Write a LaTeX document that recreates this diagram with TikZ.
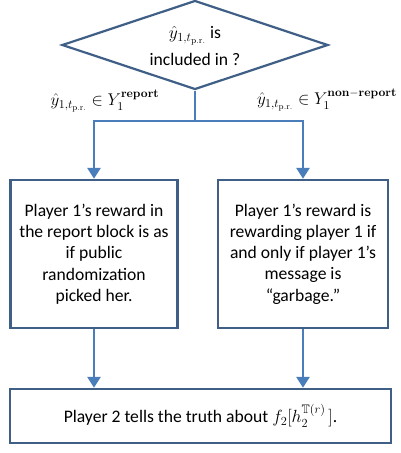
\RequirePackage{fix-cm}
\documentclass[tikz,border=0pt]{standalone}
\usepackage{amsmath,amssymb}
\usepackage[no-math]{fontspec}
\setmainfont{Carlito}
\usetikzlibrary{arrows.meta,shapes.geometric}

\definecolor{edgeblue}{HTML}{3F5F86}
\definecolor{flowblue}{HTML}{4A7EBB}

\tikzset{
  stepbox/.style={draw=edgeblue, line width=2.4pt, fill=white,
    align=center, inner sep=0pt},
  decision/.style={diamond, draw=edgeblue, line width=2.2pt, inner sep=0pt},
  flow/.style={draw=flowblue, line width=2.8pt},
  flowarrow/.style={flow, -{Triangle[width=13pt,length=11pt]}},
  branchlabel/.style={inner sep=0pt, font=\fontsize{17}{20}\selectfont},
}

\begin{document}
\begin{tikzpicture}[x=1pt, y=-1pt, every node/.style={font=\fontsize{17.6}{21.3}\selectfont}]
  \useasboundingbox (0,0) rectangle (401,453);

  % decision diamond and its question
  \node[decision, minimum width=266pt, minimum height=89pt] (dia) at (195,45) {};
  \node[align=center, inner sep=0pt, font=\fontsize{17.6}{27}\selectfont] (question)
    at ([yshift=-1pt]dia.center)
    {$\hat{y}_{1,t_{\mathrm{p.r.}}}$ is\\ included in ?};

  % the three outcome boxes
  \node[stepbox, minimum width=167pt, minimum height=148pt] (left) at (94,254)
    {Player 1's reward in\\ the report block is as\\ if public\\ randomization\\ picked her.};
  \node[stepbox, minimum width=170pt, minimum height=148pt] (right) at (303,254)
    {Player 1's reward is\\ rewarding player 1 if\\ and only if player 1's\\ message is\\ ``garbage.''};
  \node[stepbox, minimum width=381pt, minimum height=54pt] (final) at (200.5,416)
    {Player 2 tells the truth about $f_2[h_2^{\mathbb{T}(r)}\,]$.};

  % branching connector
  \coordinate (junction) at (dia.south |- 0,121);
  \coordinate (lcorner) at (left.north |- junction);
  \coordinate (rcorner) at (right.north |- junction);
  \draw[flow] (dia.south) -- (junction);
  \draw[flow, line cap=rect] (lcorner) -- (rcorner);
  \draw[flowarrow] (lcorner) -- (left.north);
  \draw[flowarrow] (rcorner) -- (right.north);

  % branch conditions
  \node[branchlabel] (lcond) at (105,101)
    {$\hat{y}_{1,t_{\mathrm{p.r.}}}\in Y_1^{\mathbf{report}}$};
  \node[branchlabel] (rcond) at (327,100)
    {$\hat{y}_{1,t_{\mathrm{p.r.}}}\in Y_1^{\mathbf{non-report}}$};

  % both branches lead to the final step
  \draw[flowarrow] (left.south) -- (left.south |- final.north);
  \draw[flowarrow] (right.south) -- (right.south |- final.north);
\end{tikzpicture}
\end{document}
